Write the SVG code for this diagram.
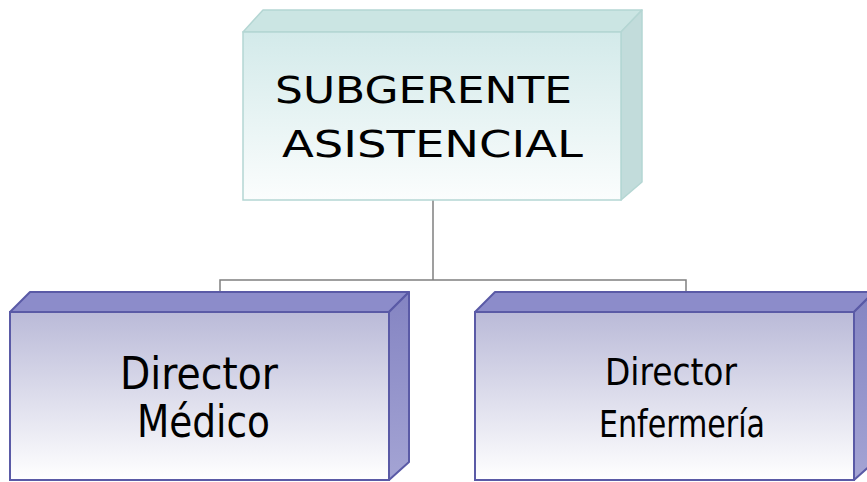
<svg xmlns="http://www.w3.org/2000/svg" width="867" height="482" viewBox="0 0 867 482">
  <defs>
    <linearGradient id="gTeal" x1="0" y1="0" x2="0" y2="1">
      <stop offset="0" stop-color="#d3eaea"/>
      <stop offset="1" stop-color="#fbfdfd"/>
    </linearGradient>
    <linearGradient id="gPurple" x1="0" y1="0" x2="0" y2="1">
      <stop offset="0" stop-color="#babad8"/>
      <stop offset="1" stop-color="#ffffff"/>
    </linearGradient>
    <linearGradient id="gPurpleSide" x1="0" y1="0" x2="0" y2="1">
      <stop offset="0" stop-color="#8484c2"/>
      <stop offset="1" stop-color="#a4a4d4"/>
    </linearGradient>
  </defs>
  <style>
    .tealFront { fill: url(#gTeal); stroke: #b4d6d3; stroke-width: 1.5; }
    .tealTop { fill: #cbe5e3; stroke: #b4d6d3; stroke-width: 1.5; stroke-linejoin: round; }
    .tealSide { fill: #c2dcdb; stroke: #b4d6d3; stroke-width: 1.5; stroke-linejoin: round; }
    .purFront { fill: url(#gPurple); stroke: #5a5aa6; stroke-width: 2; }
    .purTop { fill: #8c8cca; stroke: #5a5aa6; stroke-width: 2; stroke-linejoin: round; }
    .purSide { fill: url(#gPurpleSide); stroke: #5a5aa6; stroke-width: 2; stroke-linejoin: round; }
    .lbl { font-family: "DejaVu Sans", Verdana, sans-serif; fill: #000000; text-anchor: middle; }
    .lblc { font-family: "DejaVu Sans Condensed", "DejaVu Sans", sans-serif; font-stretch: condensed; fill: #000000; text-anchor: middle; }
    .conn { fill: none; stroke: #808080; stroke-width: 1.5; }
  </style>
  <rect width="867" height="482" fill="#ffffff"/>

  <g id="connectors">
    <path class="conn" d="M433,200 V280 M220,280 H686 M220,279.3 V292 M686,279.3 V292"/>
  </g>

  <g id="node-subgerente">
    <polygon class="tealTop" points="243,32 263,10 642,10 621,32"/>
    <polygon class="tealSide" points="621,32 642,10 642,182 621,200"/>
    <rect class="tealFront" x="243" y="32" width="378" height="168"/>
    <text class="lbl" x="423.5" y="103" font-size="38" textLength="297" lengthAdjust="spacingAndGlyphs">SUBGERENTE</text>
    <text class="lbl" x="432.5" y="157" font-size="38" textLength="301" lengthAdjust="spacingAndGlyphs">ASISTENCIAL</text>
  </g>

  <g id="node-director-medico">
    <polygon class="purTop" points="10,312 30,292 409,292 389,312"/>
    <polygon class="purSide" points="389,312 409,292 409,462 389,480"/>
    <rect class="purFront" x="10" y="312" width="379" height="168"/>
    <text class="lblc" x="199" y="389" font-size="44" textLength="158" lengthAdjust="spacingAndGlyphs">Director</text>
    <text class="lblc" x="203.5" y="437" font-size="44" textLength="133" lengthAdjust="spacingAndGlyphs">Médico</text>
  </g>

  <g id="node-director-enfermeria">
    <polygon class="purTop" points="475,312 495,292 874,292 854,312"/>
    <polygon class="purSide" points="854,312 874,292 874,462 854,480"/>
    <rect class="purFront" x="475" y="312" width="379" height="168"/>
    <text class="lblc" x="671" y="385" font-size="37" textLength="132" lengthAdjust="spacingAndGlyphs">Director</text>
    <text class="lblc" x="682" y="437" font-size="37" textLength="166" lengthAdjust="spacingAndGlyphs">Enfermería</text>
  </g>
</svg>
